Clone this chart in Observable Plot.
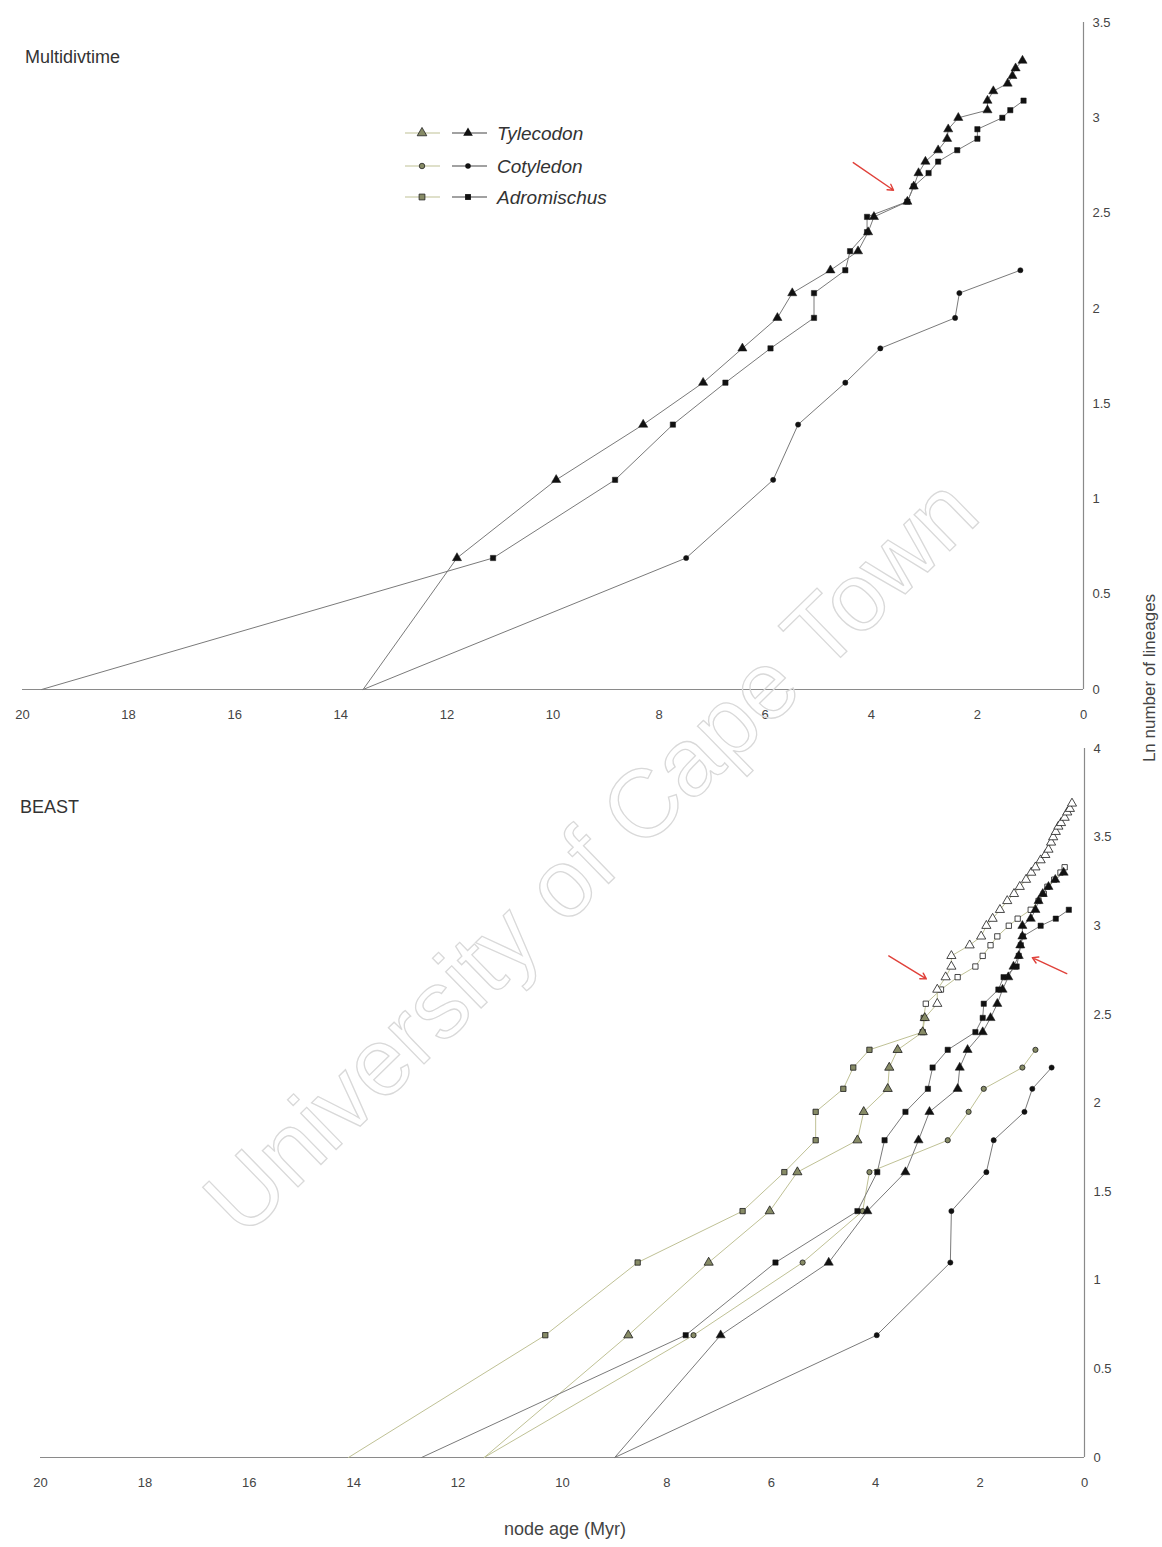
<!DOCTYPE html>
<html><head><meta charset="utf-8">
<script src="https://cdn.jsdelivr.net/npm/d3@7"></script>
<script src="https://cdn.jsdelivr.net/npm/@observablehq/plot@0.6"></script>
<style>
body{margin:0;background:#fff;font-family:"Liberation Sans",Arial,sans-serif;}
#page{position:relative;width:1162px;height:1547px;overflow:hidden;background:#fff;}
.abs{position:absolute;white-space:nowrap;color:#333;}
</style></head><body><div id="page"></div>
<script>
// ---------- Data: node ages (Myr) and ln(number of lineages) ----------
// Multidivtime
const mdTyleAge = [13.58, 11.81, 9.94, 8.30, 7.17, 6.43, 5.77, 5.49, 4.77, 4.25, 4.06, 3.95, 3.32, 3.20, 3.11, 2.98, 2.74, 2.57, 2.55, 2.36, 1.81, 1.81, 1.70, 1.43, 1.34, 1.28, 1.15];
const mdTyleLn  = [0, 0.69, 1.10, 1.39, 1.61, 1.79, 1.95, 2.08, 2.20, 2.30, 2.40, 2.48, 2.56, 2.64, 2.71, 2.77, 2.83, 2.89, 2.94, 3.00, 3.04, 3.09, 3.14, 3.18, 3.22, 3.26, 3.30];
const mdAdroAge = [19.64, 11.13, 8.83, 7.74, 6.75, 5.90, 5.08, 5.08, 4.49, 4.40, 4.08, 4.08, 3.32, 3.20, 2.92, 2.74, 2.38, 2.00, 2.00, 1.53, 1.38, 1.13];
const mdAdroLn  = [0, 0.69, 1.10, 1.39, 1.61, 1.79, 1.95, 2.08, 2.20, 2.30, 2.40, 2.48, 2.56, 2.64, 2.71, 2.77, 2.83, 2.89, 2.94, 3.00, 3.04, 3.09];
const mdCotyAge = [13.58, 7.49, 5.85, 5.38, 4.49, 3.83, 2.42, 2.34, 1.19];
const mdCotyLn  = [0, 0.69, 1.10, 1.39, 1.61, 1.79, 1.95, 2.08, 2.20];

// BEAST, olive-marked set
const bOlAdroAge = [14.1, 10.33, 8.56, 6.55, 5.75, 5.15, 5.15, 4.62, 4.43, 4.12, 3.10, 3.08, 3.04, 2.75, 2.43, 2.09, 1.95, 1.80, 1.67, 1.45, 1.28, 1.03, 0.88, 0.78, 0.71, 0.58, 0.46, 0.38];
const bOlAdroLn  = [0, 0.69, 1.10, 1.39, 1.61, 1.79, 1.95, 2.08, 2.20, 2.30, 2.40, 2.48, 2.56, 2.64, 2.71, 2.77, 2.83, 2.89, 2.94, 3.00, 3.04, 3.09, 3.14, 3.18, 3.22, 3.26, 3.30, 3.33];
const bOlTyleAge = [11.5, 8.74, 7.20, 6.03, 5.50, 4.35, 4.23, 3.77, 3.74, 3.58, 3.10, 3.06, 2.82, 2.82, 2.66, 2.55, 2.55, 2.20, 1.98, 1.88, 1.76, 1.62, 1.48, 1.35, 1.24, 1.12, 1.02, 0.94, 0.84, 0.75, 0.69, 0.64, 0.60, 0.55, 0.50, 0.45, 0.38, 0.33, 0.28, 0.24];
const bOlTyleLn  = [0, 0.69, 1.10, 1.39, 1.61, 1.79, 1.95, 2.08, 2.20, 2.30, 2.40, 2.48, 2.56, 2.64, 2.71, 2.77, 2.83, 2.89, 2.94, 3.00, 3.04, 3.09, 3.14, 3.18, 3.22, 3.26, 3.30, 3.33, 3.37, 3.40, 3.43, 3.47, 3.50, 3.53, 3.56, 3.58, 3.61, 3.64, 3.66, 3.69];
const bOlCotyAge = [11.5, 7.49, 5.40, 4.25, 4.12, 2.62, 2.22, 1.93, 1.19, 0.94];
const bOlCotyLn  = [0, 0.69, 1.10, 1.39, 1.61, 1.79, 1.95, 2.08, 2.20, 2.30];

// BEAST, black-marked set
const bBkAdroAge = [12.7, 7.64, 5.92, 4.35, 3.97, 3.83, 3.43, 3.00, 2.91, 2.62, 2.09, 1.95, 1.93, 1.65, 1.55, 1.30, 1.26, 1.22, 1.18, 0.84, 0.55, 0.30];
const bBkAdroLn  = [0, 0.69, 1.10, 1.39, 1.61, 1.79, 1.95, 2.08, 2.20, 2.30, 2.40, 2.48, 2.56, 2.64, 2.71, 2.77, 2.83, 2.89, 2.94, 3.00, 3.04, 3.09];
const bBkTyleAge = [9.0, 6.97, 4.90, 4.16, 3.43, 3.18, 2.97, 2.43, 2.39, 2.24, 1.95, 1.80, 1.67, 1.57, 1.46, 1.36, 1.26, 1.23, 1.19, 1.19, 1.03, 0.94, 0.88, 0.80, 0.69, 0.56, 0.40];
const bBkTyleLn  = [0, 0.69, 1.10, 1.39, 1.61, 1.79, 1.95, 2.08, 2.20, 2.30, 2.40, 2.48, 2.56, 2.64, 2.71, 2.77, 2.83, 2.89, 2.94, 3.00, 3.04, 3.09, 3.14, 3.18, 3.22, 3.26, 3.30];
const bBkCotyAge = [9.0, 3.98, 2.57, 2.55, 1.88, 1.74, 1.15, 1.00, 0.63];
const bBkCotyLn  = [0, 0.69, 1.10, 1.39, 1.61, 1.79, 1.95, 2.08, 2.20];

// Annotation arrows (age, ln) start -> end
const topArrows = [{x1: 4.34, y1: 2.765, x2: 3.58, y2: 2.62}];
const botArrows = [{x1: 3.75, y1: 2.83, x2: 3.03, y2: 2.70}, {x1: 0.34, y1: 2.73, x2: 1.0, y2: 2.82}];

const xTicks = [20, 18, 16, 14, 12, 10, 8, 6, 4, 2, 0];
const yTicksTop = [0, 0.5, 1, 1.5, 2, 2.5, 3, 3.5];
const yTicksBot = [0, 0.5, 1, 1.5, 2, 2.5, 3, 3.5, 4];
const genera = ["Tylecodon", "Cotyledon", "Adromischus"];

// ---------- Styles ----------
const olive = "#878b66", oliveLine = "#bfc195", blackLine = "#7a7a7a", redArrow = "#e0413a";
const sym = {Tylecodon: "triangle", Cotyledon: "circle", Adromischus: "square"};
const rad = {Tylecodon: 3.4, Cotyledon: 2.6, Adromischus: 3.0};
const font = "'Liberation Sans', Arial, sans-serif";

function rows(ages, lns, genus) { return ages.map((a, i) => ({age: a, ln: lns[i], genus})); }

function seriesMarks(data, isOlive) {
  const g = data[0].genus;
  return [
    Plot.line(data, {x: "age", y: "ln", stroke: isOlive ? oliveLine : blackLine, strokeWidth: 1}),
    Plot.dot(data.filter(d => d.ln > 0), {
      x: "age", y: "ln", symbol: sym[g], r: rad[g],
      fill: isOlive ? (d => d.ln > 2.5 ? "white" : olive) : "#111",
      stroke: "#1a1a1a", strokeWidth: isOlive ? 0.8 : 0.5
    })
  ];
}

function axes(yTicks) {
  return [
    Plot.ruleY([0], {stroke: "#8a8a8a", strokeWidth: 1.2}),
    Plot.ruleX([0], {stroke: "#8a8a8a", strokeWidth: 1.2}),
    Plot.axisX(xTicks, {tickSize: 0, tickPadding: 20, fontSize: 13, label: null, fill: "#444"}),
    Plot.axisY(yTicks, {anchor: "right", tickSize: 0, tickPadding: 9, fontSize: 13, label: null, fill: "#444", tickFormat: d => String(d)})
  ];
}

const page = document.getElementById("page");

// ---------- Top panel: Multidivtime ----------
const topPlot = Plot.plot({
  width: 1162, height: 740,
  marginLeft: 22, marginRight: 79, marginTop: 22, marginBottom: 51,
  x: {domain: [20, 0]},
  y: {domain: [0, 3.5]},
  style: {fontFamily: font, background: "transparent"},
  marks: [
    ...axes(yTicksTop),
    ...seriesMarks(rows(mdCotyAge, mdCotyLn, "Cotyledon"), false),
    ...seriesMarks(rows(mdAdroAge, mdAdroLn, "Adromischus"), false),
    ...seriesMarks(rows(mdTyleAge, mdTyleLn, "Tylecodon"), false),
    Plot.arrow(topArrows, {x1: "x1", y1: "y1", x2: "x2", y2: "y2", stroke: redArrow, strokeWidth: 1.4, headLength: 7})
  ]
});
topPlot.style.position = "absolute"; topPlot.style.left = "0px"; topPlot.style.top = "0px";
page.appendChild(topPlot);

// ---------- Bottom panel: BEAST ----------
const botPlot = Plot.plot({
  width: 1162, height: 780,
  marginLeft: 40, marginRight: 78, marginTop: 8, marginBottom: 63,
  x: {domain: [20, 0]},
  y: {domain: [0, 4]},
  style: {fontFamily: font, background: "transparent"},
  marks: [
    ...axes(yTicksBot),
    ...seriesMarks(rows(bOlAdroAge, bOlAdroLn, "Adromischus"), true),
    ...seriesMarks(rows(bOlTyleAge, bOlTyleLn, "Tylecodon"), true),
    ...seriesMarks(rows(bOlCotyAge, bOlCotyLn, "Cotyledon"), true),
    ...seriesMarks(rows(bBkCotyAge, bBkCotyLn, "Cotyledon"), false),
    ...seriesMarks(rows(bBkAdroAge, bBkAdroLn, "Adromischus"), false),
    ...seriesMarks(rows(bBkTyleAge, bBkTyleLn, "Tylecodon"), false),
    Plot.arrow(botArrows, {x1: "x1", y1: "y1", x2: "x2", y2: "y2", stroke: redArrow, strokeWidth: 1.4, headLength: 7})
  ]
});
botPlot.style.position = "absolute"; botPlot.style.left = "0px"; botPlot.style.top = "740px";
page.appendChild(botPlot);

// ---------- Texts ----------
function addText(txt, css) {
  const d = document.createElement("div");
  d.className = "abs"; d.textContent = txt;
  Object.assign(d.style, css);
  page.appendChild(d);
  return d;
}
addText("Multidivtime", {left: "25px", top: "47px", fontSize: "18px"});
addText("BEAST", {left: "20px", top: "797px", fontSize: "18px"});
addText("node age (Myr)", {left: "465px", width: "200px", textAlign: "center", top: "1519px", fontSize: "18px", color: "#444"});
addText("Ln number of lineages", {left: "1150px", top: "678px", fontSize: "17px", color: "#444",
  transform: "translate(-50%,-50%) rotate(-90deg)", transformOrigin: "center"});

// ---------- Legend ----------
const ns = "http://www.w3.org/2000/svg";
const leg = document.createElementNS(ns, "svg");
leg.setAttribute("width", 1162); leg.setAttribute("height", 740);
leg.style.position = "absolute"; leg.style.left = "0"; leg.style.top = "0"; leg.style.pointerEvents = "none";
const legY = [133, 166, 197];
function el(name, attrs, parent) { const e = document.createElementNS(ns, name); for (const k in attrs) e.setAttribute(k, attrs[k]); parent.appendChild(e); return e; }
function symbolPath(g, cx, cy) {
  const s = d3.symbol(g === "Tylecodon" ? d3.symbolTriangle : g === "Cotyledon" ? d3.symbolCircle : d3.symbolSquare,
    g === "Tylecodon" ? 40 : g === "Cotyledon" ? 24 : 34)();
  return {d: s, transform: `translate(${cx},${cy})`};
}
genera.forEach((g, i) => {
  const y = legY[i];
  el("line", {x1: 405, x2: 440, y1: y, y2: y, stroke: oliveLine, "stroke-width": 1.2}, leg);
  el("path", {...symbolPath(g, 422, y), fill: olive, stroke: "#222", "stroke-width": 0.8}, leg);
  el("line", {x1: 452, x2: 487, y1: y, y2: y, stroke: "#444", "stroke-width": 1.2}, leg);
  el("path", {...symbolPath(g, 468, y), fill: "#111"}, leg);
  const t = el("text", {x: 497, y: y, "dominant-baseline": "central", "font-size": 19, "font-style": "italic", fill: "#333", "font-family": font}, leg);
  t.textContent = g;
});
page.appendChild(leg);

// ---------- Watermark ----------
const wm = document.createElementNS(ns, "svg");
wm.setAttribute("width", 1162); wm.setAttribute("height", 1547);
wm.style.position = "absolute"; wm.style.left = "0"; wm.style.top = "0"; wm.style.pointerEvents = "none";
const wt = el("text", {x: 0, y: 0, transform: "translate(590,855) rotate(-44.3)", "text-anchor": "middle", "dominant-baseline": "central",
  "font-size": 96, "font-family": font, fill: "none", stroke: "#d9d9d9", "stroke-width": 1.3}, wm);
wt.textContent = "University of Cape Town";
page.appendChild(wm);
</script></body></html>
